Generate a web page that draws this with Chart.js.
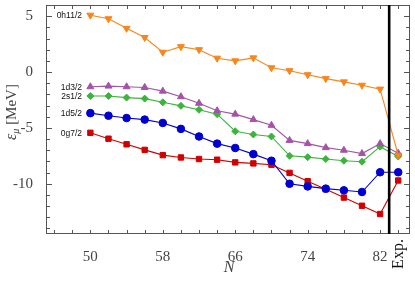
<!DOCTYPE html>
<html><head><meta charset="utf-8">
<script src="https://cdn.jsdelivr.net/npm/chart.js@4.4.0/dist/chart.umd.min.js"></script>
<style>html,body{margin:0;padding:0;background:#fff}#wrap{width:415px;height:305px}</style>
</head><body><div id="wrap"><canvas id="c" width="415" height="305"></canvas></div>
<script>
const nValues = [50,52,54,56,58,60,62,64,66,68,70,72,74,76,78,80,82,84];
const xTickValues = [50,58,66,74,82];
const yTickValues = [-10,-5,0,5];
const expN = 84;
const expLineN = 83;
const orbitLabels = ["0h11/2","1d3/2","2s1/2","1d5/2","0g7/2"];
const h11 = [5.09,4.77,3.91,3.09,1.77,2.27,2.0,1.24,1.0,1.27,0.38,0.12,-0.24,-0.59,-0.88,-1.18,-1.53,-7.45];
const d3 = [-1.32,-1.26,-1.32,-1.38,-1.71,-2.21,-2.8,-3.47,-3.77,-4.26,-4.77,-6.12,-6.41,-6.77,-7.0,-7.3,-6.41,-7.27];
const s1 = [-2.15,-2.15,-2.29,-2.38,-2.71,-3.03,-3.38,-3.77,-5.3,-5.59,-5.77,-7.5,-7.62,-7.79,-7.94,-8.03,-6.68,-7.56];
const d5 = [-3.68,-3.91,-4.12,-4.26,-4.56,-5.09,-5.77,-6.41,-6.8,-7.35,-7.94,-10.0,-10.24,-10.44,-10.59,-10.74,-8.97,-8.97];
const g7 = [-5.44,-5.97,-6.47,-6.97,-7.44,-7.65,-7.79,-7.85,-8.09,-8.18,-8.3,-9.03,-9.77,-10.5,-11.24,-11.97,-12.71,-9.71];

const series = [
  {label: orbitLabels[0], data: h11, color:'#f7861c', style:'triangle', rot:180, r:4},
  {label: orbitLabels[1], data: d3, color:'#a453a8', style:'triangle', rot:0, r:4},
  {label: orbitLabels[2], data: s1, color:'#3cb43c', style:'rectRot', rot:0, r:3.5},
  {label: orbitLabels[3], data: d5, color:'#0000d0', style:'circle', rot:0, r:3.8},
  {label: orbitLabels[4], data: g7, color:'#d00000', style:'rect', rot:0, r:3.8}
];
const datasets = series.map(s => ({
  label: s.label,
  data: nValues.map((n,i)=>({x:n,y:s.data[i]})),
  borderColor: s.color, backgroundColor: s.color,
  borderWidth: 1.1, pointStyle: s.style, pointRotation: s.rot,
  pointRadius: s.r, pointBorderWidth: 1, tension: 0
}));

const SERIF = '"Liberation Serif", "Times New Roman", serif';

const deco = {
  id:'deco',
  afterDatasetsDraw(chart){
    const {ctx, chartArea:a, scales:{x,y}} = chart;
    ctx.save();
    ctx.strokeStyle = '#555'; ctx.lineWidth = 1;
    ctx.strokeRect(a.left+0.5, a.top+0.5, a.right-a.left-1, a.bottom-a.top-1);
    ctx.beginPath();
    for (let n=46;n<=84;n+=2){
      const px = Math.round(x.getPixelForValue(n))+0.5;
      if (px<=a.left+1||px>=a.right-1) continue;
      ctx.moveTo(px,a.bottom); ctx.lineTo(px,a.bottom-4);
      ctx.moveTo(px,a.top); ctx.lineTo(px,a.top+4);
    }
    for (let v=-14; v<=6; v++){
      const py = Math.round(y.getPixelForValue(v))+0.5;
      if (py<=a.top+1||py>=a.bottom-1) continue;
      const len = (v%5===0)?6:4;
      ctx.moveTo(a.left,py); ctx.lineTo(a.left+len,py);
      ctx.moveTo(a.right,py); ctx.lineTo(a.right-len,py);
    }
    ctx.stroke();
    const ex = x.getPixelForValue(expLineN);
    ctx.strokeStyle = '#000'; ctx.lineWidth = 2.6;
    ctx.beginPath(); ctx.moveTo(ex,a.top); ctx.lineTo(ex,a.bottom); ctx.stroke();
    ctx.fillStyle = '#111'; ctx.font = '8.5px "Liberation Sans", Arial, sans-serif';
    ctx.textAlign = 'right'; ctx.textBaseline = 'middle';
    series.forEach(s=>{
      ctx.fillText(s.label, 82, y.getPixelForValue(s.data[0]) + 0.5);
    });
    ctx.save();
    ctx.translate(x.getPixelForValue(expN)+1, 254);
    ctx.rotate(-Math.PI/2);
    ctx.font = '16px ' + SERIF;
    ctx.textAlign='center'; ctx.textBaseline='middle'; ctx.fillStyle='#111';
    ctx.fillText('Exp.',0,0);
    ctx.restore();
    ctx.font = 'italic 16px ' + SERIF;
    ctx.textAlign='center'; ctx.textBaseline='middle'; ctx.fillStyle='#444';
    ctx.fillText('N', 229, 268);
    ctx.save();
    ctx.translate(12, 112);
    ctx.rotate(-Math.PI/2);
    ctx.textBaseline='middle'; ctx.textAlign='left';
    ctx.fillStyle='#444';
    const f1='italic 16px '+SERIF, f2='italic 10px '+SERIF, f3='15px '+SERIF;
    ctx.font=f1; const w1=ctx.measureText('ε').width;
    ctx.font=f2; const w2=ctx.measureText('μ').width;
    ctx.font=f3; const w3=ctx.measureText(' [MeV]').width;
    let sx = -(w1+w2+w3)/2;
    ctx.font=f1; ctx.fillText('ε',sx,0); sx+=w1;
    ctx.font=f2; ctx.fillText('μ',sx,4); sx+=w2;
    ctx.font=f3; ctx.fillText(' [MeV]',sx,0);
    ctx.restore();
    ctx.restore();
  }
};

new Chart(document.getElementById('c'), {
  type:'line',
  data:{datasets},
  options:{
    responsive:false, animation:false, devicePixelRatio:1,
    layout:{padding:{left:0, top:2, right:5, bottom:0}},
    plugins:{legend:{display:false}, tooltip:{enabled:false}},
    scales:{
      x:{type:'linear', min:45.1, max:85.3,
        grid:{display:false}, border:{display:false},
        afterBuildTicks(s){ s.ticks = xTickValues.map(v=>({value:v})); },
        afterFit(s){ s.height = 71; s.paddingLeft = 0; s.paddingRight = 0; },
        ticks:{padding:6, maxRotation:0, color:'#444', font:{family:SERIF, size:15}}
      },
      y:{type:'linear', min:-14.5, max:6,
        grid:{display:false}, border:{display:false},
        afterBuildTicks(s){ s.ticks = yTickValues.map(v=>({value:v})); },
        afterFit(s){ s.width = 46; s.paddingTop = 0; s.paddingBottom = 0; },
        ticks:{padding:5, color:'#444', font:{family:SERIF, size:15}}
      }
    }
  },
  plugins:[deco]
});
</script></body></html>
